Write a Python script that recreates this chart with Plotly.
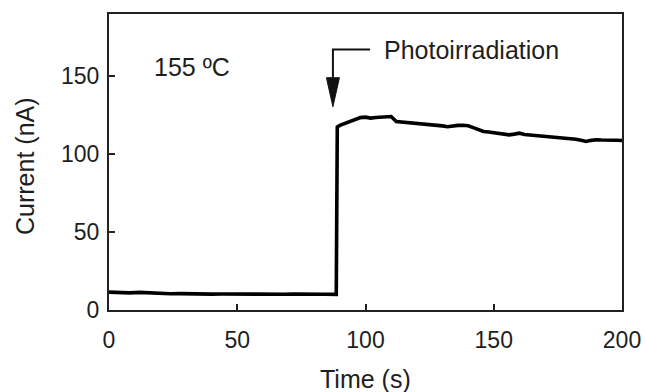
import plotly.graph_objects as go

# ---- data ----
time_s = [0, 4, 8, 12, 16, 20, 24, 28, 32, 36, 40, 44, 48, 52, 56, 60, 64, 68, 72, 76, 80, 84, 88.6,
          89.0, 90, 92, 94, 96, 98, 100, 102, 104, 106, 108, 110, 112, 114, 116, 118, 120, 122, 124,
          126, 128, 130, 132, 134, 136, 138, 140, 142, 144, 146, 148, 150, 152, 154, 156, 158, 160,
          162, 164, 166, 168, 170, 172, 174, 176, 178, 180, 182, 184, 186, 188, 190, 192, 194, 196,
          198, 200]
current_nA = [11.5, 11.2, 11.0, 11.3, 10.9, 10.6, 10.4, 10.5, 10.3, 10.4, 10.2, 10.3, 10.2, 10.3,
              10.1, 10.2, 10.3, 10.1, 10.2, 10.0, 10.2, 10.1, 10.0,
              117.5, 118.5, 119.8, 121.0, 122.2, 123.5, 123.8, 123.2, 123.6, 123.9, 124.4, 124.2,
              121.0, 120.7, 120.5, 120.4, 120.1, 119.9, 119.6, 119.3, 118.9, 118.2, 117.6, 118.3,
              118.5, 118.6, 118.3, 117.1, 115.6, 114.6, 114.3, 113.7, 113.2, 112.8, 112.4, 112.9,
              113.5, 112.7, 112.4, 112.0, 111.6, 111.4, 111.0, 110.8, 110.6, 110.3, 110.1, 109.6,
              108.9, 108.2, 108.9, 109.3, 109.1, 109.2, 108.9, 109.0, 108.8]

x_ticks = [0, 50, 100, 150, 200]
y_ticks = [0, 50, 100, 150]
x_range = [0, 200]
y_range = [0, 190]

temp_label = "155 ºC"
event_label = "Photoirradiation"

# annotation anchor positions (data units)
temp_pos = (16.8, 156)
event_text_pos = (106.5, 167.2)
arrow_x = 87.3
arrow_top = 167.2
arrow_tip = 130.5
arrow_elbow_x = 101.8

FONT = "Liberation Sans, Arial, Helvetica, sans-serif"
TXT = "#1e1e1e"

fig = go.Figure()
fig.add_trace(go.Scatter(x=time_s, y=current_nA, mode="lines",
                         line=dict(color="black", width=3.6), hoverinfo="skip",
                         showlegend=False))

axis_common = dict(showline=True, linecolor="#222", linewidth=2, mirror=True,
                   ticks="inside", tickcolor="#222", tickwidth=2, ticklen=6,
                   showgrid=False, zeroline=False, automargin=False,
                   tickfont=dict(family=FONT, size=23, color=TXT))

fig.update_xaxes(range=x_range, tickvals=x_ticks, ticklabelstandoff=8, **axis_common)
fig.update_yaxes(range=y_range, tickvals=y_ticks, ticklabelstandoff=3, **axis_common)

# elbow line of the arrow
fig.add_shape(type="path",
              path=f"M {arrow_elbow_x},{arrow_top} L {arrow_x},{arrow_top} L {arrow_x},{arrow_tip + 8}",
              xref="x", yref="y", line=dict(color="#111", width=2))
# arrowhead (pixel sized, anchored at tip)
fig.add_shape(type="path", xref="x", yref="y", xsizemode="pixel", ysizemode="pixel",
              xanchor=arrow_x, yanchor=arrow_tip,
              path="M -6.5,29 L 6.5,29 L 0,0 Z",
              fillcolor="#111", line=dict(color="#111", width=1))

fig.add_annotation(x=temp_pos[0], y=temp_pos[1], xref="x", yref="y", text=temp_label,
                   showarrow=False, xanchor="left", yanchor="middle",
                   font=dict(family=FONT, size=25, color=TXT))
fig.add_annotation(x=event_text_pos[0], y=event_text_pos[1], xref="x", yref="y", text=event_label,
                   showarrow=False, xanchor="left", yanchor="middle",
                   font=dict(family=FONT, size=25, color=TXT))

# axis titles
fig.add_annotation(x=0.5, y=0, xref="paper", yref="paper", text="Time (s)", showarrow=False,
                   xanchor="center", yanchor="middle", yshift=-69,
                   font=dict(family=FONT, size=25, color=TXT))
fig.add_annotation(x=0, y=0.5, xref="paper", yref="paper", text="Current (nA)", showarrow=False,
                   xanchor="center", yanchor="middle", xshift=-84, yshift=-4, textangle=-90,
                   font=dict(family=FONT, size=25, color=TXT))

fig.update_layout(width=645, height=392, margin=dict(l=109, r=23, t=14, b=82),
                  plot_bgcolor="white", paper_bgcolor="white")

# remove the default 8 px page margin so the figure fills the window exactly
fig.write_html("out.html", config={"displayModeBar": False},
               post_script="document.body.style.margin='0';document.body.style.overflow='hidden';")
